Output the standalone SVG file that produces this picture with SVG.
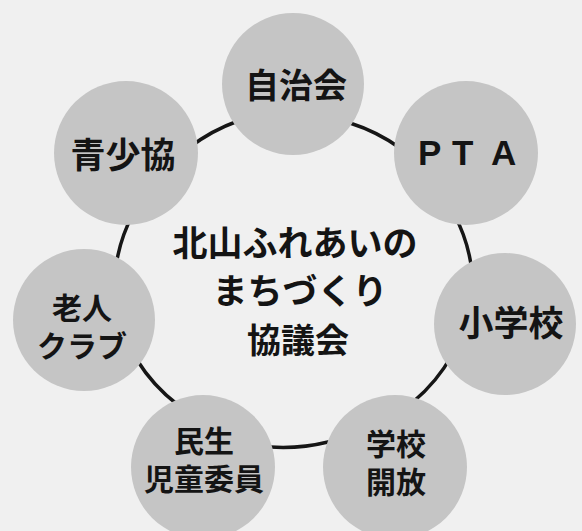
<svg xmlns="http://www.w3.org/2000/svg" width="582" height="531" viewBox="0 0 582 531">
  <style>
    .bg { fill: #f0f0f0; }
    .node circle { fill: #c5c5c5; }
    .lbl { font-family: "Noto Sans CJK JP", "Noto Sans", sans-serif; font-weight: bold; fill: #141414; text-anchor: middle; }
    .conn path { fill: none; stroke: #161616; stroke-width: 3.5; stroke-linecap: round; }
  </style>
  <rect class="bg" x="0" y="0" width="582" height="531"/>

  <g id="connectors" class="conn">
    <path d="M 190 147 A 177 166 0 0 1 238 121"/>
    <path d="M 350 123 A 177 166 0 0 1 400 148"/>
    <path d="M 454 214 A 177 166 0 0 1 472 272"/>
    <path d="M 452 355 A 177 166 0 0 1 413 402"/>
    <path d="M 328 442 A 177 166 0 0 1 270 447"/>
    <path d="M 178 405 A 177 166 0 0 1 137 360"/>
    <path d="M 116 266 A 177 166 0 0 1 133 214"/>
  </g>

  <g id="center">
    <text class="lbl" font-size="35"><tspan x="295" y="256">北山ふれあいの</tspan><tspan x="300" y="304">まちづくり</tspan><tspan x="298" y="353" font-size="34">協議会</tspan></text>
  </g>

  <g id="jichikai" class="node">
    <circle cx="293" cy="84" r="71"/>
    <text class="lbl" x="296" y="98" font-size="34">自治会</text>
  </g>
  <g id="pta" class="node">
    <circle cx="466" cy="153" r="72"/>
    <text class="lbl" x="418 452 491" y="165" font-size="35" style="text-anchor:start;font-family:'Liberation Sans',Arial,sans-serif">PTA</text>
  </g>
  <g id="shogakko" class="node">
    <circle cx="505" cy="324" r="71"/>
    <text class="lbl" x="511" y="336" font-size="35">小学校</text>
  </g>
  <g id="gakko-kaiho" class="node">
    <circle cx="395" cy="467" r="72"/>
    <text class="lbl" font-size="30"><tspan x="396" y="455">学校</tspan><tspan x="396" y="493">開放</tspan></text>
  </g>
  <g id="minsei" class="node">
    <circle cx="203" cy="467" r="72"/>
    <text class="lbl" font-size="30"><tspan x="204" y="452">民生</tspan><tspan x="204" y="490">児童委員</tspan></text>
  </g>
  <g id="rojin" class="node">
    <circle cx="84" cy="320" r="71"/>
    <text class="lbl" font-size="30"><tspan x="82" y="319">老人</tspan><tspan x="82" y="357">クラブ</tspan></text>
  </g>
  <g id="seishokyo" class="node">
    <circle cx="126" cy="153" r="72"/>
    <text class="lbl" x="123" y="168" font-size="35">青少協</text>
  </g>
</svg>
